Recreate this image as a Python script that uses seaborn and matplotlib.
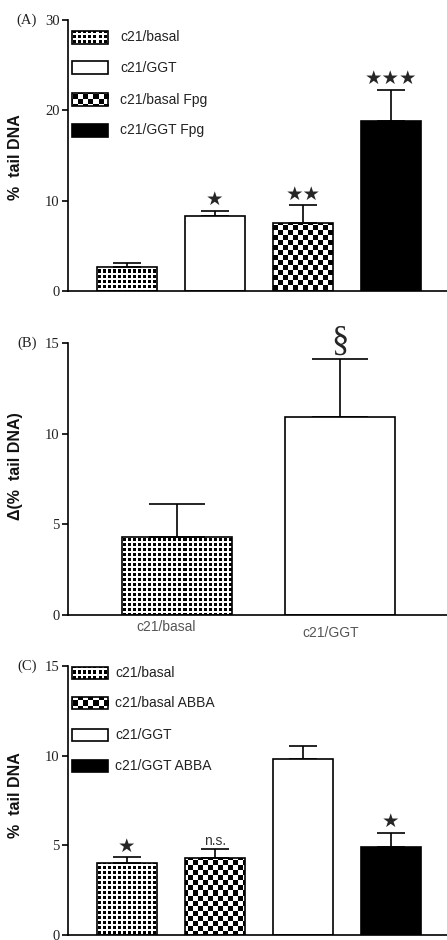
import numpy as np
import pandas as pd
import matplotlib
matplotlib.use("Agg")
import matplotlib.pyplot as plt
import seaborn as sns
from matplotlib.patches import Rectangle
from matplotlib.transforms import ScaledTranslation

# ---- data -------------------------------------------------------------
a_groups = ["c21/basal", "c21/GGT", "c21/basal Fpg", "c21/GGT Fpg"]
a_mean = [2.7, 8.3, 7.5, 18.8]
a_sem = [0.4, 0.6, 2.0, 3.5]
a_marks = ["", "★", "★★", "★★★"]

b_groups = ["c21/basal", "c21/GGT"]
b_mean = [4.3, 10.9]
b_sem = [1.8, 3.2]
b_marks = ["", "§"]

c_groups = ["c21/basal", "c21/basal ABBA", "c21/GGT", "c21/GGT ABBA"]
c_mean = [4.0, 4.3, 9.8, 4.9]
c_sem = [0.35, 0.5, 0.75, 0.8]
c_marks = ["★", "n.s.", "", "★"]

# fill style of every group
FILL = {
    "c21/basal": "dots",
    "c21/GGT": "white",
    "c21/basal Fpg": "checker",
    "c21/GGT Fpg": "black",
    "c21/basal ABBA": "checker",
    "c21/GGT ABBA": "black",
}

sns.set_theme(style="ticks")
plt.rcParams["font.family"] = ["Liberation Sans", "DejaVu Sans"]
SERIF = ["Liberation Serif", "DejaVu Serif"]
LW = 1.2

W, H = 447, 940
fig = plt.figure(figsize=(W / 100, H / 100), dpi=100)
axA = fig.add_axes([68 / W, 1 - 291 / H, 379 / W, 271 / H])
axB = fig.add_axes([68 / W, 1 - 615 / H, 379 / W, 272 / H])
axC = fig.add_axes([68 / W, 1 - 935 / H, 379 / W, 269 / H])


def texture(ax, kind):
    """Pixel texture covering the whole axes; clipped later to a shape."""
    bb = ax.get_window_extent()
    w, h = int(round(bb.width)), int(round(bb.height))
    yy, xx = np.mgrid[0:h, 0:w]
    if kind == "dots":
        ink = (xx % 5 < 3) & (yy % 5 < 3)
    else:
        ink = ((xx // 5 + yy // 5) % 2) == 0
    img = np.where(ink, 0.0, 1.0)
    return ax.imshow(img, cmap="gray", vmin=0, vmax=1, extent=(0, 1, 0, 1),
                     transform=ax.transAxes, interpolation="nearest",
                     aspect="auto", zorder=0.5)


def draw_panel(ax, groups, means, sems, marks, ylim, yticks, xlim, width,
               capsize, ylabel, ylabel_y, tag):
    df = pd.DataFrame({"group": groups, "mean": means})
    palette = {g: ("black" if FILL[g] == "black" else "white") for g in groups}
    sns.barplot(data=df, x="group", y="mean", hue="group", order=groups,
                hue_order=groups, palette=palette, saturation=1, width=width,
                edgecolor="black", linewidth=LW, errorbar=None, legend=False,
                ax=ax, zorder=2)
    x = np.arange(len(groups))
    ax.errorbar(x, means, yerr=[np.zeros(len(groups)), sems], fmt="none",
                ecolor="black", elinewidth=LW, capsize=capsize, capthick=LW,
                zorder=1.5)

    bars = sorted(ax.patches, key=lambda p: p.get_x())
    for g, bar in zip(groups, bars):
        if FILL[g] in ("dots", "checker"):
            bar.set_facecolor("none")
            im = texture(ax, FILL[g])
            im.set_clip_path(bar)

    for i, m in enumerate(marks):
        if not m:
            continue
        if m == "§":
            kw = dict(fontsize=25, family=SERIF)
            off = 1
        elif m == "n.s.":
            kw = dict(fontsize=10, color="#333")
            off = 1
        else:
            kw = dict(fontsize=14, family=["DejaVu Sans"])
            off = 1
        ax.annotate(m, xy=(x[i], means[i] + sems[i]), xytext=(0, off),
                    textcoords="offset points", ha="center", va="bottom", **kw)

    ax.set_ylim(*ylim)
    ax.set_xlim(*xlim)
    ax.set_yticks(yticks)
    ax.set_yticklabels([str(t) for t in yticks], family=SERIF, fontsize=10.5,
                       color="#222")
    ax.tick_params(axis="y", direction="out", length=4, width=LW, pad=2,
                   color="black")
    ax.tick_params(axis="x", length=0)
    ax.set_xticklabels([])
    ax.set_xlabel("")
    ax.set_ylabel(ylabel, fontsize=11.5, fontweight="bold", color="#111")
    ax.yaxis.set_label_coords(-0.12, ylabel_y)
    sns.despine(ax=ax)
    for s in ("left", "bottom"):
        ax.spines[s].set_linewidth(LW)
        ax.spines[s].set_color("black")
    ax.text(-0.083, 1.0, tag, transform=ax.transAxes, ha="right", va="center",
            family=SERIF, fontsize=10.5, color="#222")


def draw_key(ax, groups, x0, w, h, ys, tx):
    for g, y in zip(groups, ys):
        kind = FILL[g]
        fc = {"white": "white", "black": "black"}.get(kind, "none")
        r = Rectangle((x0, y - h / 2), w, h, transform=ax.transAxes,
                      facecolor=fc, edgecolor="black", lw=LW, zorder=4)
        ax.add_patch(r)
        if kind in ("dots", "checker"):
            im = texture(ax, kind)
            im.set_clip_path(r)
            im.set_zorder(3.5)
        ax.text(tx, y, g, transform=ax.transAxes, ha="left", va="center",
                fontsize=10, color="#222")


# (A)
draw_panel(axA, a_groups, a_mean, a_sem, a_marks, (0, 30), [0, 10, 20, 30],
           (-0.67, 3.64), 0.68, 10, "%  tail DNA", 0.494, "(A)")
draw_key(axA, a_groups, 0.011, 0.095, 0.048, [0.937, 0.823, 0.705, 0.594], 0.137)
axA.set_xlim(-0.67, 3.64)
axA.set_ylim(0, 30)

# (B)
draw_panel(axB, b_groups, b_mean, b_sem, b_marks, (0, 15), [0, 5, 10, 15],
           (-0.669, 1.656), 0.675, 20, "Δ(%  tail DNA)", 0.548, "(B)")
# category names under the bars, slightly staggered
shifts = [(-11, -12), (-9, -18)]
for i, (g, (dx, dy)) in enumerate(zip(b_groups, shifts)):
    tr = axB.get_xaxis_transform() + ScaledTranslation(dx / 100, dy / 100,
                                                       fig.dpi_scale_trans)
    axB.text(i, 0, g, transform=tr, ha="center", va="center", fontsize=10,
             color="#555")

# (C)
draw_panel(axC, c_groups, c_mean, c_sem, c_marks, (0, 15), [0, 5, 10, 15],
           (-0.67, 3.64), 0.68, 10, "%  tail DNA", 0.52, "(C)")
draw_key(axC, c_groups, 0.011, 0.095, 0.045, [0.974, 0.862, 0.743, 0.628], 0.124)
axC.set_xlim(-0.67, 3.64)
axC.set_ylim(0, 15)

fig.savefig("out.png", dpi=100)
